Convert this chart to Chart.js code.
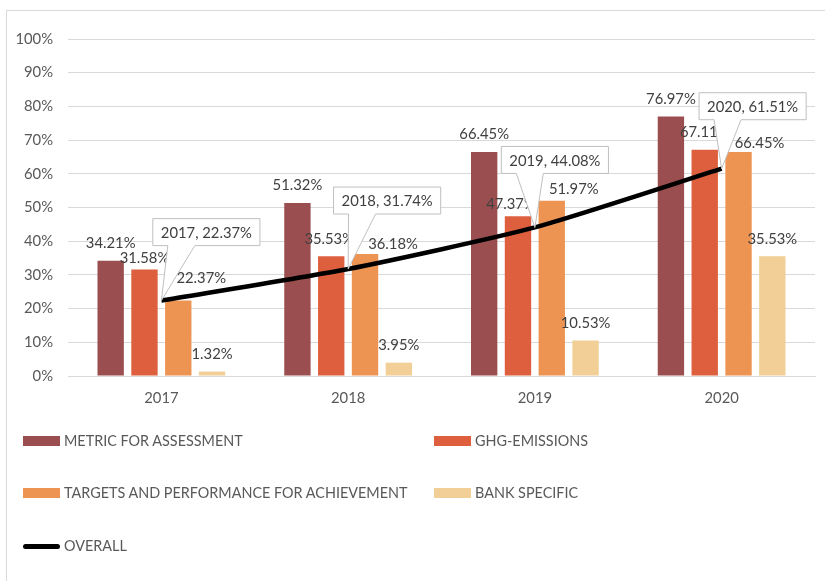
<!DOCTYPE html>
<html>
<head>
<meta charset="utf-8">
<script src="https://cdn.jsdelivr.net/npm/chart.js@4/dist/chart.umd.min.js"></script>
<style>
  html, body { margin: 0; padding: 0; background: #fff; overflow: hidden; }
  #wrap { position: relative; width: 825px; height: 581px; overflow: hidden; }
  #frame { position: absolute; left: 6px; top: 10px; width: 900px; height: 700px; border: 1px solid #d9d9d9; box-sizing: border-box; }
  #chart { position: absolute; left: 0; top: 0; }
  .lg { position: absolute; font-family: Lato, sans-serif; font-size: 14.4px; color: #595959; white-space: nowrap; line-height: 18px; height: 18px; }
  .lg .sw { position: absolute; left: 0; top: 4px; width: 37px; height: 10px; }
  .lg .ln { position: absolute; left: 0; top: 6.5px; width: 37px; height: 5px; border-radius: 3px; background: #000; }
  .lg .tx { position: absolute; left: 41px; top: 0; }
</style>
</head>
<body>
<div id="wrap">
  <div id="frame"></div>
  <canvas id="chart" width="825" height="581"></canvas>
  <div id="legend"></div>
</div>
<script>
// chart values (percent)
const categories = ['2017', '2018', '2019', '2020'];
const metricForAssessment = [34.21, 51.32, 66.45, 76.97];
const ghgEmissions = [31.58, 35.53, 47.37, 67.11];
const targetsPerformance = [22.37, 36.18, 51.97, 66.45];
const bankSpecific = [1.32, 3.95, 10.53, 35.53];
const overall = [22.37, 31.74, 44.08, 61.51];

const seriesNames = [
  'METRIC FOR ASSESSMENT',
  'GHG-EMISSIONS',
  'TARGETS AND PERFORMANCE FOR ACHIEVEMENT',
  'BANK SPECIFIC',
  'OVERALL',
];
const barColors = ['#9b4e4f', '#de5f3d', '#ee9453', '#f1cf96'];

// manual label nudges like in the original workbook [dx, dy]
const labelNudge = {
  '1-0': [0, 6.5], '2-0': [23, -4.5],
  '1-1': [-2, 0], '2-1': [28, 7.5],
  '1-2': [-7, 5], '2-2': [22, 6],
  '2-3': [21, 9],
};
// callout box: centre dx from point, bottom edge height above point
const calloutNudge = [[45, 55], [39, 55], [20, 54], [31, 49]];

const fmt = (v) => v.toFixed(2) + '%';

Chart.defaults.font.family = 'Lato, sans-serif';
Chart.defaults.font.size = 14.8;
Chart.defaults.color = '#595959';

const labelPlugin = {
  id: 'labels',
  afterDatasetsDraw(chart) {
    const ctx = chart.ctx;
    ctx.save();
    ctx.font = '14.8px Lato, sans-serif';
    ctx.fillStyle = '#404040';
    ctx.textAlign = 'center';
    ctx.textBaseline = 'middle';
    // bar value labels
    for (let d = 0; d < 4; d++) {
      const meta = chart.getDatasetMeta(d);
      meta.data.forEach((bar, i) => {
        const n = labelNudge[d + '-' + i] || [0, 0];
        const v = chart.data.datasets[d].data[i];
        ctx.fillText(fmt(v), bar.x + n[0], bar.y - 17.5 + n[1]);
      });
    }
    // callouts for the overall line
    const lineMeta = chart.getDatasetMeta(4);
    lineMeta.data.forEach((pt, i) => {
      const text = categories[i] + ', ' + fmt(overall[i]);
      const w = ctx.measureText(text).width + 16;
      const h = 27;
      const cx = pt.x + calloutNudge[i][0];
      const bottom = pt.y - calloutNudge[i][1];
      const left = cx - w / 2, top = bottom - h;
      ctx.beginPath();
      ctx.moveTo(left, top);
      ctx.lineTo(left + w, top);
      ctx.lineTo(left + w, bottom);
      ctx.lineTo(left + 42, bottom);
      ctx.lineTo(pt.x, pt.y);
      ctx.lineTo(left + 15, bottom);
      ctx.lineTo(left, bottom);
      ctx.closePath();
      ctx.fillStyle = '#ffffff';
      ctx.fill();
      ctx.strokeStyle = '#bfbfbf';
      ctx.lineWidth = 1;
      ctx.stroke();
      ctx.fillStyle = '#404040';
      ctx.fillText(text, cx, top + h / 2 + 1);
    });
    ctx.restore();
  },
};

const barSets = [metricForAssessment, ghgEmissions, targetsPerformance, bankSpecific].map((data, k) => ({
  type: 'bar',
  label: seriesNames[k],
  data: data,
  backgroundColor: barColors[k],
  borderWidth: 0,
  categoryPercentage: 0.724,
  barPercentage: 0.78,
  order: 1,
}));

const chart = new Chart(document.getElementById('chart'), {
  data: {
    labels: categories,
    datasets: [
      ...barSets,
      {
        type: 'line',
        label: seriesNames[4],
        data: overall,
        borderColor: '#000000',
        borderWidth: 4.5,
        pointRadius: 0,
        tension: 0.2,
        fill: false,
        order: 0,
      },
    ],
  },
  options: {
    responsive: false,
    animation: false,
    layout: { padding: { top: 39, right: 10, left: 0, bottom: 0 } },
    plugins: {
      legend: { display: false },
      tooltip: { enabled: false },
    },
    scales: {
      x: {
        grid: { display: false, drawTicks: false },
        border: { display: true, color: '#d9d9d9', width: 1 },
        ticks: { padding: 13, color: '#595959' },
        afterFit: (s) => { s.height = 205; },
      },
      y: {
        min: 0,
        max: 100,
        ticks: { stepSize: 10, padding: 15, color: '#595959', callback: (v) => v + '%' },
        grid: { color: '#d9d9d9', drawTicks: false },
        border: { display: false },
        afterFit: (s) => { s.width = 68; },
      },
    },
  },
  plugins: [labelPlugin],
});

// legend in two columns under the plot
const legendCols = [23, 434];
const legendRows = [441, 493, 546];
const legendBox = document.getElementById('legend');
chart.data.datasets.forEach((ds, i) => {
  const item = document.createElement('div');
  item.className = 'lg';
  item.style.left = legendCols[i % 2] + 'px';
  item.style.top = (legendRows[Math.floor(i / 2)] - 9) + 'px';
  const mark = document.createElement('span');
  if (ds.type === 'line') {
    mark.className = 'ln';
  } else {
    mark.className = 'sw';
    mark.style.background = ds.backgroundColor;
  }
  const txt = document.createElement('span');
  txt.className = 'tx';
  txt.textContent = ds.label;
  item.appendChild(mark);
  item.appendChild(txt);
  legendBox.appendChild(item);
});
</script>
</body>
</html>
